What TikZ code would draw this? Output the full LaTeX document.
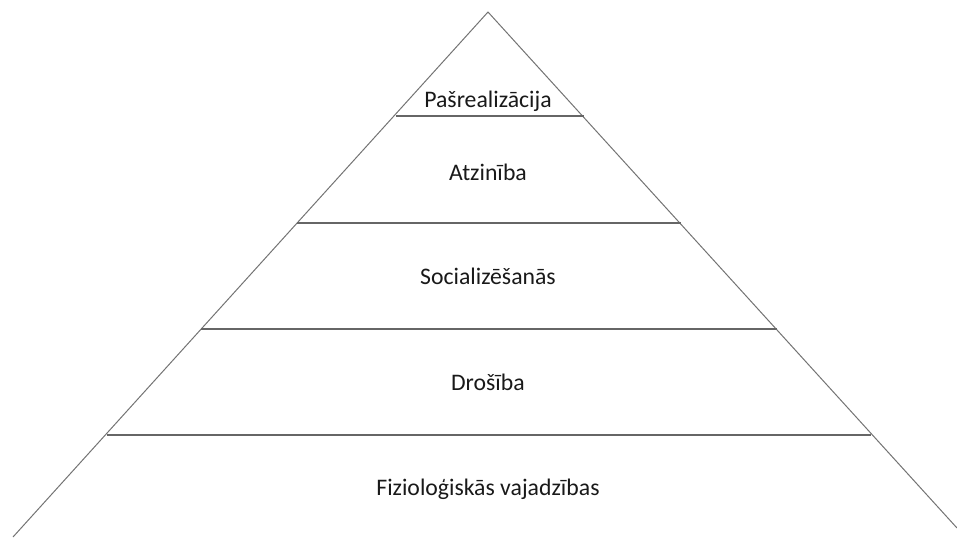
\documentclass[tikz,border=0pt]{standalone}
\usepackage{fontspec}
\setmainfont{Carlito}
\usetikzlibrary{positioning}

\begin{document}
\begin{tikzpicture}[
x=0.75pt, y=-0.75pt,
level/.style={font=\fontsize{17.8}{21}\selectfont, text=black!90, inner sep=0pt},
side/.style={draw=black!55, line width=0.75pt},
step line/.style={draw=black!60, line width=0.9pt}
]
\useasboundingbox (0,0) rectangle (957,537);
%Corners
\coordinate (apex) at (488,12);
\coordinate (bl)   at (13,537);
\coordinate (br)   at (957,528);

%Level ends
\coordinate (L1) at (396,116);  \coordinate (R1) at (584,116);
\coordinate (L2) at (297,223);  \coordinate (R2) at (681,223);
\coordinate (L3) at (201,329);  \coordinate (R3) at (777,329);
\coordinate (L4) at (107,435);  \coordinate (R4) at (871,435);

%Nodes
\node[level] (top)    at (488,101) {Pašrealizācija};
\node[level] (esteem) at (488,172) {Atzinība};
\node[level] (social) at (488,276) {Socializēšanās};
\node[level] (safety) at (488,382) {Drošība};
\node[level] (phys)   at (488,489) {Fizioloģiskās vajadzības};

%Lines
\draw[side] (bl) -- (apex) -- (br);
\draw[step line] (L1) -- (R1);
\draw[step line] (L2) -- (R2);
\draw[step line] (L3) -- (R3);
\draw[step line] (L4) -- (R4);
\end{tikzpicture}
\end{document}
